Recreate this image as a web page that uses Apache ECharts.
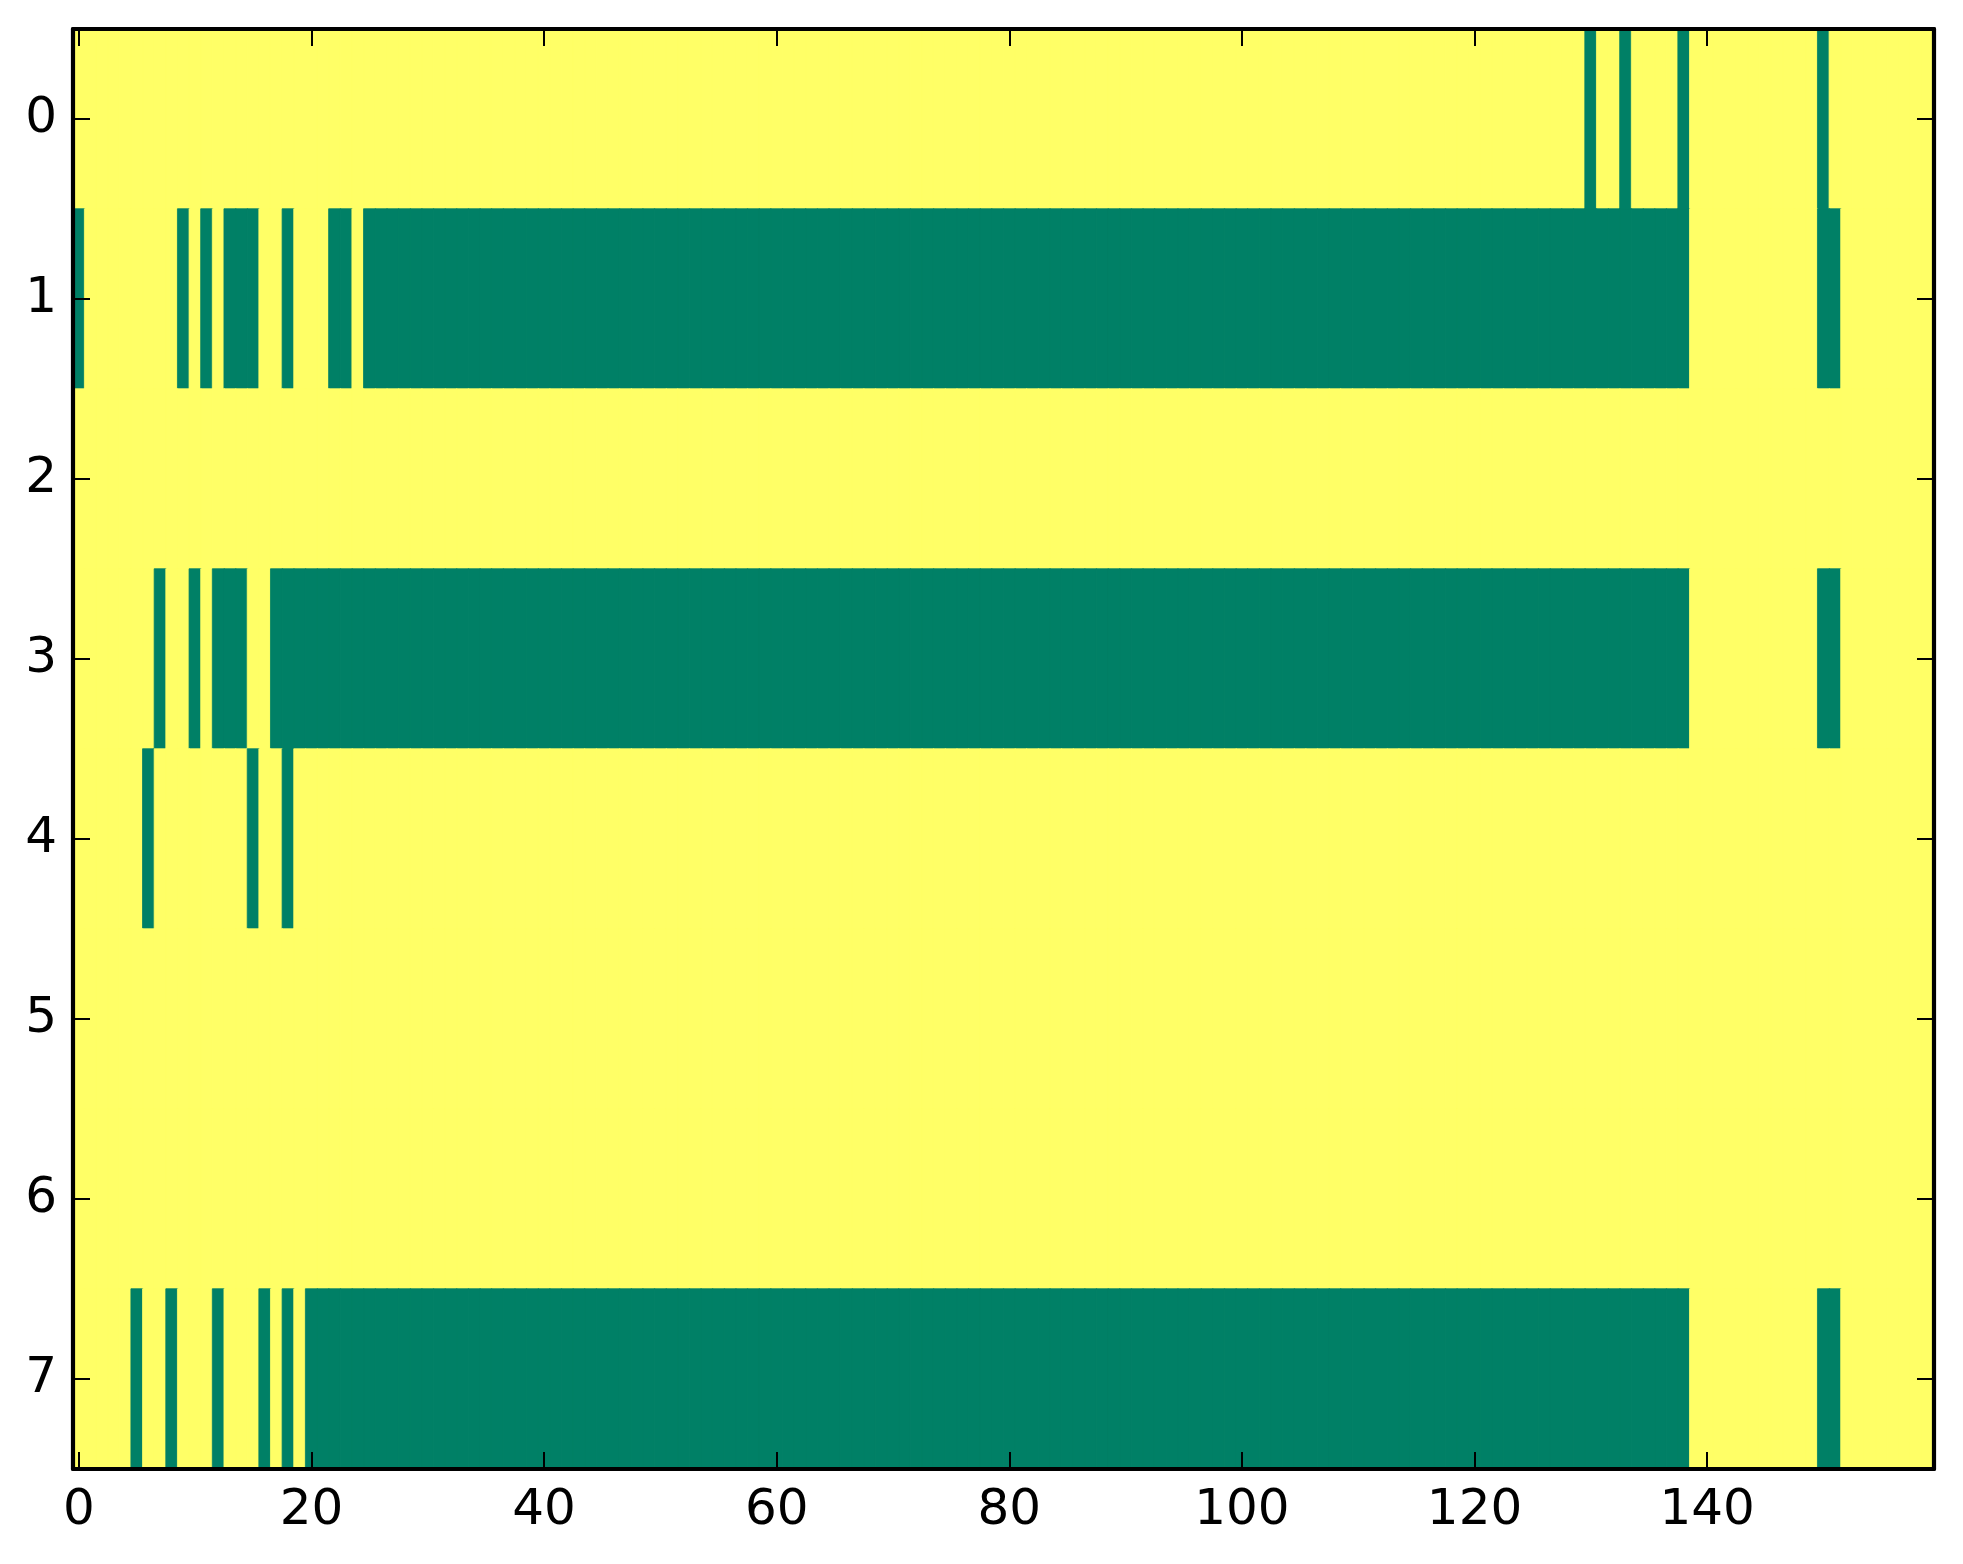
<!DOCTYPE html>
<html>
<head>
<meta charset="utf-8">
<script src="https://cdn.jsdelivr.net/npm/echarts@6/dist/echarts.min.js"></script>
<style>
html,body{margin:0;padding:0;background:#fff;}
#chart{width:1963px;height:1564px;}
</style>
</head>
<body>
<div id="chart"></div>
<script>
// ---- data ----
const rowLabels = ['0','1','2','3','4','5','6','7'];
const columnCount = 160;
const xTickLabels = ['0','20','40','60','80','100','120','140'];
// green (value 1) runs per row, [firstColumn, lastColumn]
const row0Runs = [[130,130],[133,133],[138,138],[150,150]];
const row1Runs = [[0,0],[9,9],[11,11],[13,15],[18,18],[22,23],[25,138],[150,151]];
const row2Runs = [];
const row3Runs = [[7,7],[10,10],[12,14],[17,138],[150,151]];
const row4Runs = [[6,6],[15,15],[18,18]];
const row5Runs = [];
const row6Runs = [];
const row7Runs = [[5,5],[8,8],[12,12],[16,16],[18,18],[20,138],[150,151]];

const allRuns = [row0Runs,row1Runs,row2Runs,row3Runs,row4Runs,row5Runs,row6Runs,row7Runs];
const columns = [];
for (let i = 0; i < columnCount; i++) columns.push(String(i));

const YELLOW = '#ffff66';
const GREEN = '#008066';
const FONT = 'DejaVu Sans';

const cells = [];
allRuns.forEach(function(runs, r){
  const rowVals = new Array(columnCount).fill(0);
  runs.forEach(function(run){ for (let c = run[0]; c <= run[1]; c++) rowVals[c] = 1; });
  rowVals.forEach(function(v, c){
    const col = v ? GREEN : YELLOW;
    cells.push({value:[c, r, v], itemStyle:{color:col, borderColor:col, borderWidth:0.8}});
  });
});

const showX = function(idx){ return xTickLabels.indexOf(String(idx)) >= 0; };

const lineStyle = {show:true, onZero:false, lineStyle:{color:'#000', width:4.2}};
const tickStyle = {show:true, inside:true, length:17, lineStyle:{color:'#000', width:2}};

const chart = echarts.init(document.getElementById('chart'), null, {renderer:'canvas'});
chart.setOption({
  animation:false,
  backgroundColor:'#fff',
  grid:{left:73, right:29, top:29, bottom:95, containLabel:false},
  xAxis:[{
    type:'category', data:columns, position:'bottom', boundaryGap:true, z:10,
    axisLine:lineStyle,
    axisTick:Object.assign({}, tickStyle, {alignWithLabel:true, interval:function(i){return showX(i);}}),
    axisLabel:{show:true, interval:function(i){return showX(i);}, fontFamily:FONT, fontSize:50, color:'#000', margin:17},
    splitLine:{show:false}, splitArea:{show:false}
  },{
    type:'category', data:columns, position:'top', boundaryGap:true, z:10,
    axisLine:lineStyle,
    axisTick:Object.assign({}, tickStyle, {alignWithLabel:true, interval:function(i){return showX(i);}}),
    axisLabel:{show:false},
    splitLine:{show:false}, splitArea:{show:false}
  }],
  yAxis:[{
    type:'category', data:rowLabels, inverse:true, position:'left', boundaryGap:true, z:10,
    axisLine:lineStyle,
    axisTick:Object.assign({}, tickStyle, {alignWithLabel:true}),
    axisLabel:{show:true, fontFamily:FONT, fontSize:50, color:'#000', margin:16},
    splitLine:{show:false}, splitArea:{show:false}
  },{
    type:'category', data:rowLabels, inverse:true, position:'right', boundaryGap:true, z:10,
    axisLine:lineStyle,
    axisTick:Object.assign({}, tickStyle, {alignWithLabel:true}),
    axisLabel:{show:false},
    splitLine:{show:false}, splitArea:{show:false}
  }],
  series:[{
    type:'heatmap', xAxisIndex:0, yAxisIndex:0, data:cells,
    emphasis:{disabled:true},
    progressive:0, z:1
  }]
});
</script>
</body>
</html>
